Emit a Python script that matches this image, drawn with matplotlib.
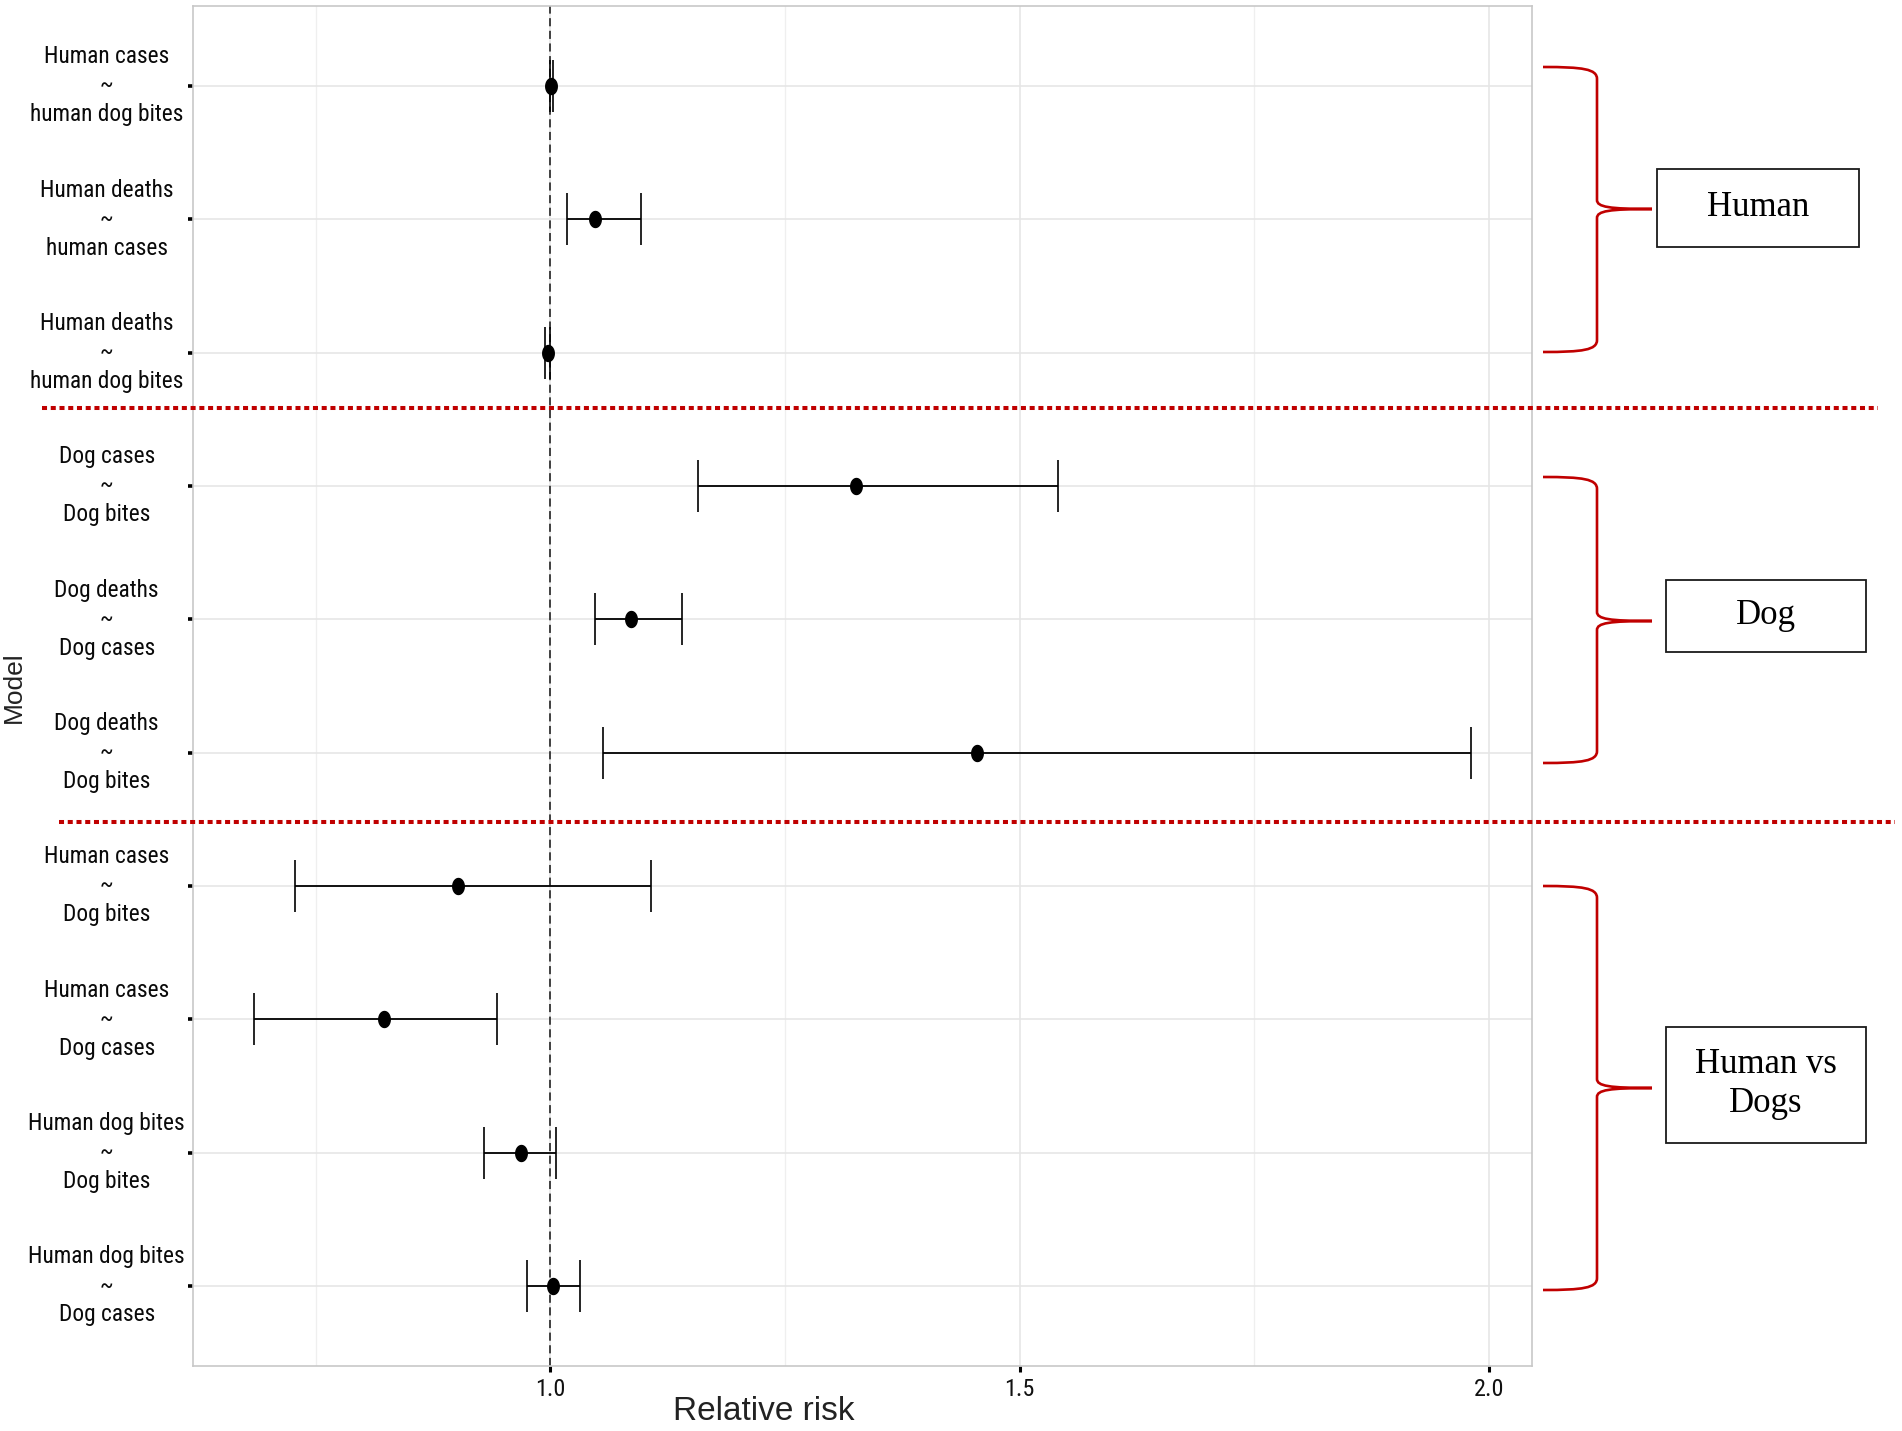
import numpy as np
import matplotlib
matplotlib.use("Agg")
import matplotlib.pyplot as plt
from matplotlib import font_manager as fm
from matplotlib.font_manager import FontProperties
from matplotlib.path import Path
from matplotlib.patches import PathPatch, Rectangle
from matplotlib.lines import Line2D

# ---------------- data ----------------
models = [
    "Human cases\n~\nhuman dog bites",
    "Human deaths\n~\nhuman cases",
    "Human deaths\n~\nhuman dog bites",
    "Dog cases\n~\nDog bites",
    "Dog deaths\n~\nDog cases",
    "Dog deaths\n~\nDog bites",
    "Human cases\n~\nDog bites",
    "Human cases\n~\nDog cases",
    "Human dog bites\n~\nDog bites",
    "Human dog bites\n~\nDog cases",
]
rr = [1.001, 1.047, 0.997, 1.326, 1.086, 1.454, 0.901, 0.823, 0.969, 1.003]
lower = [1.000, 1.018, 0.994, 1.157, 1.048, 1.056, 0.728, 0.684, 0.929, 0.975]
upper = [1.003, 1.097, 0.999, 1.541, 1.140, 1.981, 1.107, 0.943, 1.006, 1.031]
x_ticks = [1.0, 1.5, 2.0]
x_tick_labels = ["1.0", "1.5", "2.0"]
x_minor = [0.75, 1.25, 1.75]
group_names = ["Human", "Dog", "Human vs\nDogs"]

# ---------------- figure ----------------
W, H = 1902, 1431
fig = plt.figure(figsize=(W / 100, H / 100), dpi=100)
fig.patch.set_facecolor("white")
renderer = fig.canvas.get_renderer()

def fx(x):
    return x / W

def fy(y):
    return 1 - y / H

avail = {f.name for f in fm.fontManager.ttflist}
cond_first = "Liberation Sans"
for cand in ["Liberation Sans Narrow", "Roboto Condensed", "Arial Narrow",
             "Nimbus Sans Narrow", "Roboto", "Liberation Sans"]:
    if cand in avail:
        cond_first = cand
        break
cond = [cond_first, "Liberation Sans", "DejaVu Sans"]
sans = ["Liberation Sans", "DejaVu Sans"]
serif = ["Liberation Serif", "DejaVu Serif"]

def extent(s, fam, size, **kw):
    t = fig.text(0, 0, s, family=fam, fontsize=size, **kw)
    bb = t.get_window_extent(renderer=renderer)
    t.remove()
    return bb.width, bb.height

# y tick labels: condensed sans, sized to the reference width
w10, _ = extent("human dog bites", cond, 10)
ytick_size = min(18, 10 * 153 / w10)
_, lp_h, lp_d = renderer.get_text_width_height_descent(
    "lp", FontProperties(family=cond, size=ytick_size), ismath=False)
ytick_ls = (29.0 - lp_d) / (lp_h - lp_d)

# x tick labels: condensed, similar size
xtick_size = min(18, ytick_size * 1.03)

ax_l, ax_r, ax_t, ax_b = 193, 1532, 6, 1366
ax = fig.add_axes([fx(ax_l), fy(ax_b), (ax_r - ax_l) / W, (ax_b - ax_t) / H])

rr_a = np.array(rr)
lo_a = np.array(lower)
hi_a = np.array(upper)
ypos = np.arange(1, len(models) + 1)

# scale limits like ggplot (5% continuous, 0.6 discrete)
xmin, xmax = lo_a.min(), hi_a.max()
pad = 0.05 * (xmax - xmin)
ax.set_xlim(xmin - pad, xmax + pad)
ax.set_ylim(len(models) + 0.6, 0.4)

# grid
for v in x_minor:
    ax.axvline(v, color="#efefef", lw=0.9, zorder=0)
for v in x_ticks:
    ax.axvline(v, color="#e6e6e6", lw=1.2, zorder=0)
for y in ypos:
    ax.axhline(y, color="#e6e6e6", lw=1.2, zorder=0)

ax.axvline(1.0, color="#333333", lw=1.3, linestyle=(0, (4.5, 2.5)), zorder=1.5)

ax.errorbar(rr_a, ypos, xerr=[rr_a - lo_a, hi_a - rr_a], fmt="none",
            ecolor="black", elinewidth=1.3, capsize=19, capthick=1.2, zorder=3)

t = np.linspace(0, 2 * np.pi, 80)
ell = Path(np.column_stack([0.36 * np.cos(t), 0.5 * np.sin(t)]), closed=True)
ax.plot(rr_a, ypos, linestyle="none", marker=ell, markersize=11.5,
        color="black", zorder=4)

# axes styling
for s in ax.spines.values():
    s.set_color("#c8c8c8")
    s.set_linewidth(1.2)

ax.set_xticks(x_ticks, x_tick_labels, fontsize=xtick_size, family=cond, color="#111111")
ax.set_yticks(ypos, models, fontsize=ytick_size, family=cond, color="#0a0a0a",
              ha="center", va="center", multialignment="center", linespacing=ytick_ls)
ax.tick_params(axis="y", length=3.6, width=2.6, color="black", pad=58.5)
ax.tick_params(axis="x", length=4.3, width=2.2, color="black", pad=4)
for lab in ax.get_yticklabels():
    lab.set_ha("center")

ax.set_xlabel("Relative risk", fontsize=24, family=sans, color="#222222")
ax.xaxis.set_label_coords((764 - ax_l) / (ax_r - ax_l), -(1411 - ax_b) / (ax_b - ax_t))
ax.xaxis.label.set_va("center")
ax.set_ylabel("Model", fontsize=19, family=sans, color="#222222")
ax.yaxis.set_label_coords((14 - ax_l) / (ax_r - ax_l), 1 - (687 - ax_t) / (ax_b - ax_t))
ax.yaxis.label.set_va("center")

# red dotted separators (figure coordinates)
red = "#c00000"
for (x0, x1, y) in [(42, 1878, 408), (59, 1895, 822)]:
    fig.add_artist(Line2D([fx(x0), fx(x1)], [fy(y), fy(y)], transform=fig.transFigure,
                          color=red, lw=2.9, linestyle=(0, (1.25, 0.92)),
                          solid_capstyle="butt", dash_capstyle="butt"))

# braces
def brace(yt, ym, yb, x0=1543, xv=1597, xt=1652):
    pts = [(x0, yt), (x0 + 40, yt), (xv, yt + 2), (xv, yt + 12),
           (xv, ym - 9),
           (xv, ym - 2), (xv + 12, ym), (xt, ym),
           (xv + 12, ym), (xv, ym + 2), (xv, ym + 9),
           (xv, yb - 12),
           (xv, yb - 2), (x0 + 40, yb), (x0, yb)]
    codes = [Path.MOVETO, Path.CURVE4, Path.CURVE4, Path.CURVE4,
             Path.LINETO,
             Path.CURVE4, Path.CURVE4, Path.CURVE4,
             Path.CURVE4, Path.CURVE4, Path.CURVE4,
             Path.LINETO,
             Path.CURVE4, Path.CURVE4, Path.CURVE4]
    verts = [(fx(x), fy(y)) for x, y in pts]
    fig.add_artist(PathPatch(Path(verts, codes), transform=fig.transFigure,
                             facecolor="none", edgecolor=red, lw=1.9))

brace(67, 209, 352)
brace(477, 621, 763)
brace(886, 1088, 1290)

# label boxes
boxes = [(1657, 1859, 169, 247), (1666, 1866, 580, 652), (1666, 1866, 1027, 1143)]
for name, (bx0, bx1, by0, by1) in zip(group_names, boxes):
    fig.add_artist(Rectangle((fx(bx0), fy(by1)), (bx1 - bx0) / W, (by1 - by0) / H,
                             transform=fig.transFigure, facecolor="white",
                             edgecolor="#1a1a1a", lw=1.3))
    fig.text(fx((bx0 + bx1) / 2), fy((by0 + by1) / 2 - 1), name, ha="center", va="center",
             fontsize=25, family=serif, color="black", linespacing=1.22)

fig.savefig("out.png", dpi=100, facecolor="white")
